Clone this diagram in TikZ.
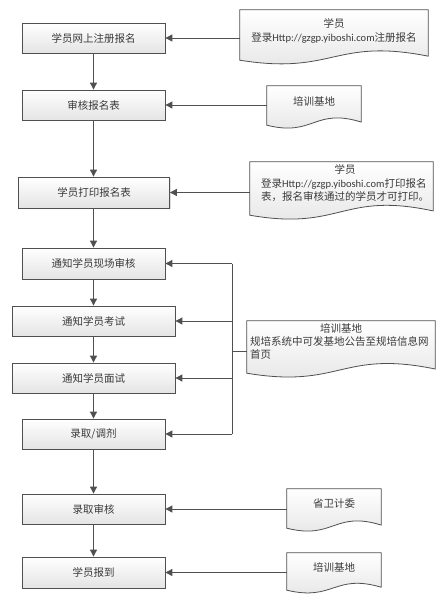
\documentclass[tikz,border=0pt]{standalone}
\usepackage{fontspec}
\setmainfont{Noto Sans CJK SC}
\newfontfamily\lat{Carlito}
\usetikzlibrary{calc,arrows.meta,shadows}
\definecolor{linec}{HTML}{505050}
\definecolor{txtc}{HTML}{3A3A3A}
\definecolor{fillb}{HTML}{E4E4E4}
\tikzset{
  procbox/.style={draw=linec, line width=0.8pt, top color=white, bottom color=fillb,
    text=txtc, font=\fontsize{10.5}{12}\selectfont, inner sep=0pt,
    drop shadow={shadow xshift=1pt, shadow yshift=-1pt, opacity=0.25}},
  docnode/.style={draw=none, inner sep=0pt, text=txtc, font=\fontsize{10.5}{13.5}\selectfont},
  docshape/.style={draw=linec, line width=0.8pt, top color=white, bottom color=fillb},
  doctext/.style={text=txtc, font=\fontsize{10.5}{13.5}\selectfont},
  arr/.style={draw=linec, line width=0.9pt, -{Triangle[length=7pt,width=7pt]}},
  ln/.style={draw=linec, line width=0.9pt},
}
\newcommand{\docpath}[1]{%
  \path[docshape] let \p1=(#1.north west), \p2=(#1.south east) in
    (\x1,\y1) -- (\x2,\y1) -- (\x2,{\y2+0.08*(\y1-\y2)})
    .. controls ({\x1+0.5*(\x2-\x1)},{\y2+0.45*(\y1-\y2)}) and ({\x1+0.5*(\x2-\x1)},{\y2-0.3*(\y1-\y2)}) ..
    (\x1,\y2) -- cycle;}
\begin{document}
\begin{tikzpicture}[x=1pt,y=-1pt]
\useasboundingbox[fill=white] (0,0) rectangle (442,608);
% process boxes
\node[procbox, minimum width=143pt, minimum height=30pt] (b1) at (93.5,38) {学员网上注册报名};
\node[procbox, minimum width=143pt, minimum height=30pt] (b2) at (93.5,105) {审核报名表};
\node[procbox, minimum width=151pt, minimum height=31pt] (b3) at (94,192.5) {学员打印报名表};
\node[procbox, minimum width=143pt, minimum height=31pt] (b4) at (93.5,263.5) {通知学员现场审核};
\node[procbox, minimum width=163pt, minimum height=30pt] (b5) at (93.5,321) {通知学员考试};
\node[procbox, minimum width=163pt, minimum height=30pt] (b6) at (93.5,378) {通知学员面试};
\node[procbox, minimum width=143pt, minimum height=30pt] (b7) at (93.5,434) {录取/调剂};
\node[procbox, minimum width=143pt, minimum height=30pt] (b8) at (93.5,509) {录取审核};
\node[procbox, minimum width=143pt, minimum height=31pt] (b9) at (93.5,572.5) {学员报到};
% document shapes (node = straight part)
\node[docnode, minimum width=188pt, minimum height=50pt] (d1) at (334,35) {};
\docpath{d1}
\node[doctext, align=center] at (334,31) {学员\\登录{\lat Http://gzgp.yiboshi.com}注册报名};
\node[docnode, minimum width=94pt, minimum height=39pt] (d2) at (314,105.5) {};
\docpath{d2}
\node[doctext] at (314,101) {培训基地};
\node[docnode, minimum width=183pt, minimum height=53pt] (d3) at (341.5,188.5) {};
\docpath{d3}
\node[doctext] at (345,169) {学员};
\node[doctext, align=left, anchor=north west, inner sep=0pt] at (261,178) {登录{\lat Http://gzgp.yiboshi.com}打印报名\\表，报名审核通过的学员才可打印。};
\node[docnode, minimum width=188pt, minimum height=52pt] (d4) at (341,347) {};
\docpath{d4}
\node[doctext] at (341,328) {培训基地};
\node[doctext, align=left, anchor=north west, inner sep=0pt] at (250,336) {规培系统中可发基地公告至规培信息网\\首页};
\node[docnode, minimum width=94pt, minimum height=39pt] (d5) at (334,508.5) {};
\docpath{d5}
\node[doctext] at (334,504) {省卫计委};
\node[docnode, minimum width=94pt, minimum height=37pt] (d6) at (334,571.5) {};
\docpath{d6}
\node[doctext] at (334,567) {培训基地};
% vertical flow
\draw[arr] (b1) -- (b2);
\draw[arr] (b2.south) -- (b2.south |- b3.north);
\draw[arr] (b2.south |- b3.south) -- (b2.south |- b4.north);
\draw[arr] (b4) -- (b5);
\draw[arr] (b5) -- (b6);
\draw[arr] (b6) -- (b7);
\draw[arr] (b7) -- (b8);
\draw[arr] (b8) -- (b9);
% side inputs
\draw[arr] (d1.west |- b1.east) -- (b1.east);
\draw[arr] (d2.west |- b2.east) -- (b2.east);
\draw[arr] (d3.west |- b3.east) -- (b3.east);
\draw[arr] (d5.west |- b8.east) -- (b8.east);
\draw[arr] (d6.west |- b9.east) -- (b9.east);
% bus for d4
\coordinate (bus) at (232,351);
\draw[ln] (d4.west |- bus) -- (bus);
\draw[ln] (bus |- b4.east) -- (bus |- b7.east);
\draw[arr] (bus |- b4.east) -- (b4.east);
\draw[arr] (bus |- b5.east) -- (b5.east);
\draw[arr] (bus |- b6.east) -- (b6.east);
\draw[arr] (bus |- b7.east) -- (b7.east);
\end{tikzpicture}
\end{document}
